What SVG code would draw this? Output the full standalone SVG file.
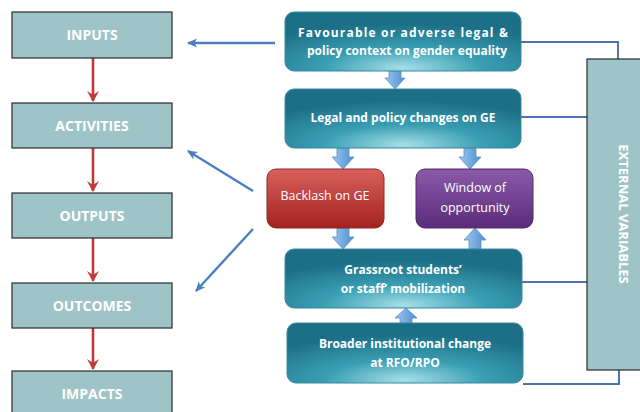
<svg xmlns="http://www.w3.org/2000/svg" width="640" height="412" viewBox="0 0 640 412">
<defs>
<radialGradient id="teal" cx="0.5" cy="0.95" r="0.75">
<stop offset="0" stop-color="#a6dfe7"/>
<stop offset="0.45" stop-color="#3a9fb4"/>
<stop offset="1" stop-color="#1c6f86"/>
</radialGradient>
<linearGradient id="red" x1="0" y1="0" x2="0" y2="1">
<stop offset="0" stop-color="#d9605e"/>
<stop offset="1" stop-color="#a3221f"/>
</linearGradient>
<linearGradient id="purple" x1="0" y1="0" x2="0" y2="1">
<stop offset="0" stop-color="#8a5aa8"/>
<stop offset="1" stop-color="#5a2c7a"/>
</linearGradient>
<linearGradient id="blk" x1="0" y1="0" x2="1" y2="0">
<stop offset="0" stop-color="#9cc6ee"/>
<stop offset="1" stop-color="#4f8fd0"/>
</linearGradient>
<marker id="redhead" markerWidth="14" markerHeight="14" refX="10" refY="6" orient="auto" markerUnits="userSpaceOnUse">
<path d="M0,0 L11,6 L0,12 L4,6 Z" fill="#c0393b"/>
</marker>
<marker id="bluehead" markerWidth="12" markerHeight="12" refX="9" refY="5" orient="auto" markerUnits="userSpaceOnUse">
<path d="M0,0.5 L10,5 L0,9.5 L2.5,5 Z" fill="#4a7fc1"/>
</marker>
</defs>
<style>
.lbox{fill:#9fc4c7;stroke:#2a2a2a;stroke-width:1.2}
.ltxt{font-family:"Open Sans","Liberation Sans",sans-serif;font-weight:bold;font-size:14px;fill:#ffffff;text-anchor:middle}
.tbox{stroke:#3a8aa0;stroke-width:1}
.ttxt{font-family:"Open Sans","Liberation Sans",sans-serif;font-weight:bold;font-size:12px;fill:#ffffff;text-anchor:middle}
.rtxt{font-family:"Open Sans","Liberation Sans",sans-serif;font-size:12.5px;fill:#ffffff;text-anchor:middle}
.red{stroke:#c0393b;stroke-width:2.6;fill:none}
.blue{stroke:#4a7fc1;stroke-width:2.4;fill:none}
.conn{stroke:#4a74b4;stroke-width:2;fill:none}
.barrow{fill:url(#blk);stroke:#5b8fc8;stroke-width:0.8}
</style>
<g id="connectors">
<line class="red" x1="93" y1="58" x2="93" y2="101" marker-end="url(#redhead)"/>
<line class="red" x1="93" y1="148" x2="93" y2="191" marker-end="url(#redhead)"/>
<line class="red" x1="93" y1="238" x2="93" y2="281" marker-end="url(#redhead)"/>
<line class="red" x1="93" y1="328" x2="93" y2="369" marker-end="url(#redhead)"/>
<line class="blue" x1="275" y1="43" x2="188" y2="43" marker-end="url(#bluehead)"/>
<line class="blue" x1="253" y1="191" x2="188" y2="151" marker-end="url(#bluehead)"/>
<line class="blue" x1="253" y1="229" x2="196" y2="291" marker-end="url(#bluehead)"/>
<polyline class="conn" points="521,42 618,42 618,59"/>
<line class="conn" x1="521" y1="117" x2="587" y2="117"/>
<line class="conn" x1="522" y1="282" x2="587" y2="282"/>
<polyline class="conn" points="523,384 619,384 619,370"/>
<path class="barrow" d="M389,71 L401,71 L401,78 L405,78 L395,89 L385,78 L389,78 Z"/>
<path class="barrow" d="M337,148 L349,148 L349,157 L354,157 L343,169 L332,157 L337,157 Z"/>
<path class="barrow" d="M464,148 L476,148 L476,157 L481,157 L470,169 L459,157 L464,157 Z"/>
<path class="barrow" d="M337,228 L349,228 L349,237 L354,237 L343,249 L332,237 L337,237 Z"/>
<path class="barrow" d="M469,249 L481,249 L481,240 L486,240 L475,228 L464,240 L469,240 Z"/>
<path class="barrow" d="M400,323 L412,323 L412,318 L417,318 L406,308 L395,318 L400,318 Z"/>
</g>
<g id="inputs"><rect class="lbox" x="12" y="12" width="160" height="46"/><text class="ltxt" x="92" y="40">INPUTS</text></g>
<g id="activities"><rect class="lbox" x="12" y="103" width="160" height="45"/><text class="ltxt" x="92" y="131">ACTIVITIES</text></g>
<g id="outputs"><rect class="lbox" x="12" y="193" width="160" height="45"/><text class="ltxt" x="92" y="221">OUTPUTS</text></g>
<g id="outcomes"><rect class="lbox" x="12" y="283" width="160" height="45"/><text class="ltxt" x="92" y="311">OUTCOMES</text></g>
<g id="impacts"><rect class="lbox" x="12" y="371" width="160" height="50"/><text class="ltxt" x="92" y="399">IMPACTS</text></g>
<g id="favourable"><rect class="tbox" x="285" y="12" width="236" height="59" rx="9" fill="url(#teal)"/><text class="ttxt" x="403" y="37" textLength="210" lengthAdjust="spacing">Favourable or adverse legal &amp;</text><text class="ttxt" x="407" y="55" textLength="200" lengthAdjust="spacing">policy context on gender equality</text></g>
<g id="legal"><rect class="tbox" x="285" y="89" width="236" height="59" rx="9" fill="url(#teal)"/><text class="ttxt" x="403" y="122">Legal and policy changes on GE</text></g>
<g id="backlash"><rect x="267" y="169" width="117" height="59" rx="9" fill="url(#red)" stroke="#8a2a2a" stroke-width="1"/><text class="rtxt" x="325" y="200">Backlash on GE</text></g>
<g id="window"><rect x="416" y="169" width="117" height="59" rx="9" fill="url(#purple)" stroke="#4c2a66" stroke-width="1"/><text class="rtxt" x="475" y="192">Window of</text><text class="rtxt" x="475" y="212">opportunity</text></g>
<g id="grassroot"><rect class="tbox" x="285" y="249" width="237" height="59" rx="9" fill="url(#teal)"/><text class="ttxt" x="403" y="274">Grassroot students’</text><text class="ttxt" x="403" y="293">or staff’ mobilization</text></g>
<g id="broader"><rect class="tbox" x="287" y="323" width="236" height="60" rx="9" fill="url(#teal)"/><text class="ttxt" x="405" y="348">Broader institutional change</text><text class="ttxt" x="405" y="367">at RFO/RPO</text></g>
<g id="external"><rect class="lbox" x="587" y="59" width="60" height="311"/><text x="0" y="0" transform="translate(619,214) rotate(90)" font-family="'Open Sans','Liberation Sans',sans-serif" font-weight="bold" font-size="13" fill="#ffffff" text-anchor="middle">EXTERNAL VARIABLES</text></g>
</svg>
